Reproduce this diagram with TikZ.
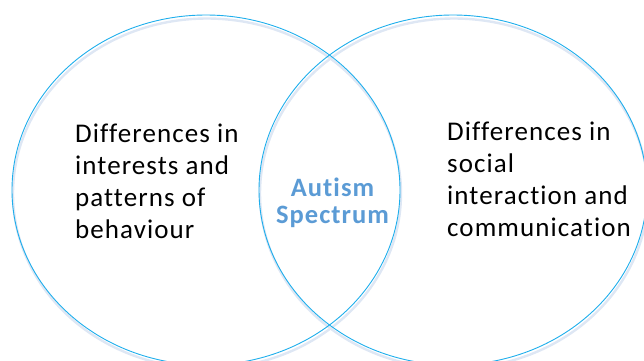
\documentclass[tikz,border=0pt]{standalone}
\usepackage{fontspec}
\setmainfont{Carlito}[LetterSpace=4, Ligatures={NoCommon,NoRare,NoContextual}]
\usetikzlibrary{shapes.geometric}

\definecolor{ringblue}{RGB}{30,174,236}
\definecolor{ringshade}{RGB}{222,231,244}
\definecolor{coreblue}{RGB}{91,155,213}

\begin{document}
\begin{tikzpicture}[x=1pt,y=-1pt,
  ring/.style={ellipse, draw=ringblue, line width=0.9pt,
    minimum width=388pt, minimum height=350pt, inner sep=0pt},
  ringglow/.style={ellipse, draw=ringshade, line width=2.4pt,
    minimum width=388pt, minimum height=350pt, inner sep=0pt},
  sidetext/.style={anchor=north west, align=left, inner sep=0pt,
    font=\fontsize{27}{32}\selectfont},
  coretext/.style={anchor=north, align=center, inner sep=0pt,
    font=\bfseries\fontsize{26.5}{27}\selectfont, text=coreblue}]
  \useasboundingbox (0,0) rectangle (644,360);
  \clip (0,0) rectangle (644,360);

  % soft shadows under the two sets
  \node[ringglow] (leftglow)  at (207,193.5) {};
  \node[ringglow] (rightglow) at (454,193.5) {};

  % the two overlapping sets
  \node[ring] (leftset)  at (206,190) {};
  \node[ring] (rightset) at (453,190) {};

  % labels
  \node[sidetext] (behaviour) at (75,124)
    {Differences in\\interests and\\patterns of\\behaviour};
  \node[sidetext] (social) at (447,122)
    {Differences in\\social\\interaction and\\communication};
  \node[coretext] (core) at (332.5,177.5) {Autism\\Spectrum};
\end{tikzpicture}
\end{document}
